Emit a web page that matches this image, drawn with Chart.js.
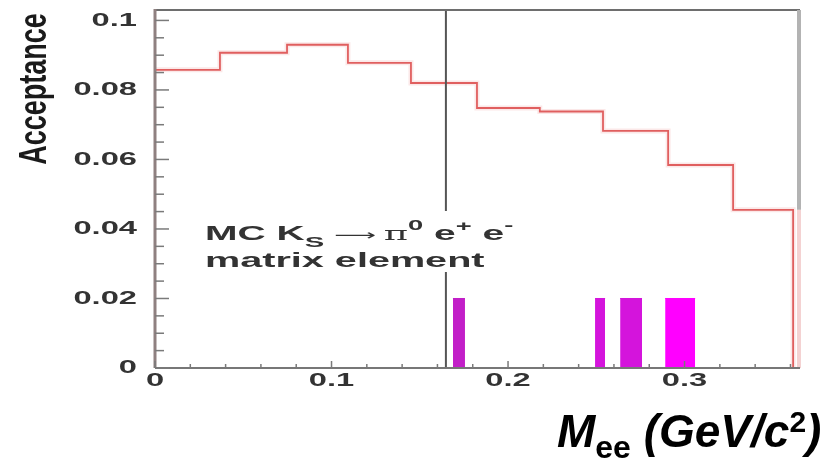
<!DOCTYPE html>
<html>
<head>
<meta charset="utf-8">
<script src="https://cdn.jsdelivr.net/npm/chart.js@4.4.3/dist/chart.umd.min.js"></script>
<style>
  html, body { margin: 0; padding: 0; background: #fff; }
  #wrap { width: 839px; height: 465px; }
</style>
</head>
<body>
<div id="wrap"><canvas id="accChart"></canvas></div>
<script>
// histogram bin edges, Mee in GeV/c^2
const binEdges = [0, 0.0368, 0.0748, 0.1093, 0.145, 0.1824, 0.218, 0.2538, 0.2907, 0.3275, 0.3615];
// acceptance per bin
const acceptance = [0.0858, 0.0907, 0.0930, 0.0878, 0.0820, 0.0748, 0.0738, 0.0682, 0.0584, 0.0455];
// magenta bars
const barLow = [0.1688, 0.2493, 0.2635, 0.2890];
const barHigh = [0.1756, 0.2550, 0.2759, 0.3060];
const barHeight = [0.02, 0.02, 0.02, 0.02];
const barColors = ["#c21fc8", "#d414dc", "#d414dc", "#ff00ff"];
// vertical cut line
const cutValue = 0.1648;
const xTickLabels = ["0", "0.1", "0.2", "0.3"];
const yTickLabels = ["0", "0.02", "0.04", "0.06", "0.08", "0.1"];
const X_MAX = 0.3654;
const Y_MAX = 0.103;

const FONT = "'Liberation Sans', Arial, sans-serif";

// histogram as stepped line: one point per low edge, then close to 0
const histPoints = acceptance.map((v, i) => ({ x: binEdges[i], y: v }));
histPoints.push({ x: binEdges[binEdges.length - 1], y: 0 });

const datasets = [
  {
    data: histPoints,
    stepped: "before",
    borderColor: "rgba(235,150,150,0.22)",
    borderWidth: 5,
    pointRadius: 0,
    fill: false,
  },
  {
    data: histPoints,
    stepped: "before",
    borderColor: "#dd5050",
    borderWidth: 1.8,
    pointRadius: 0,
    fill: false,
  },
];
barLow.forEach((lo, i) => {
  datasets.push({
    data: [
      { x: lo, y: barHeight[i] },
      { x: barHigh[i], y: barHeight[i] },
    ],
    borderColor: barColors[i],
    borderWidth: 1,
    backgroundColor: barColors[i],
    pointRadius: 0,
    fill: "origin",
  });
});

// draw text stretched horizontally (the reference is a widened ROOT canvas)
function runs(ctx, parts, x0, y0, stretch) {
  ctx.save();
  ctx.translate(x0, y0);
  ctx.scale(stretch, 1);
  ctx.textAlign = "left";
  ctx.textBaseline = "alphabetic";
  let cx = 0;
  for (const p of parts) {
    ctx.font = p.font;
    ctx.fillText(p.t, cx, p.dy || 0);
    cx += ctx.measureText(p.t).width + (p.gap || 0);
  }
  ctx.restore();
}

function stretchText(ctx, str, px, py, stretch, align) {
  ctx.save();
  ctx.translate(px, py);
  ctx.scale(stretch, 1);
  ctx.textAlign = align;
  ctx.fillText(str, 0, 0);
  ctx.restore();
}

const rootStyle = {
  id: "rootStyle",
  afterDatasetsDraw(chart) {
    const { ctx, chartArea: a } = chart;
    const x = chart.scales.x;
    const y = chart.scales.y;
    ctx.save();

    // cut line
    const cx = x.getPixelForValue(cutValue);
    ctx.strokeStyle = "#555";
    ctx.lineWidth = 2;
    ctx.beginPath();
    ctx.moveTo(cx, a.top);
    ctx.lineTo(cx, a.bottom);
    ctx.stroke();

    // legend box (white, hides the cut line)
    ctx.fillStyle = "#fff";
    ctx.fillRect(196, 211, 344, 61);

    // frame
    ctx.strokeStyle = "#6e6e6e";
    ctx.lineWidth = 2;
    ctx.beginPath();
    ctx.moveTo(a.left, a.top);
    ctx.lineTo(a.right, a.top);
    ctx.stroke();

    const lastY = y.getPixelForValue(acceptance[acceptance.length - 1]);
    ctx.strokeStyle = "#b3b3b3";
    ctx.lineWidth = 4;
    ctx.beginPath();
    ctx.moveTo(a.right - 1, a.top);
    ctx.lineTo(a.right - 1, lastY);
    ctx.stroke();
    ctx.strokeStyle = "#f4d2d2";
    ctx.beginPath();
    ctx.moveTo(a.right - 1, lastY);
    ctx.lineTo(a.right - 1, a.bottom);
    ctx.stroke();

    ctx.strokeStyle = "#8f8080";
    ctx.lineWidth = 3;
    ctx.beginPath();
    ctx.moveTo(a.left, a.top - 1);
    ctx.lineTo(a.left, a.bottom);
    ctx.stroke();

    ctx.strokeStyle = "#777";
    ctx.lineWidth = 2;
    ctx.beginPath();
    ctx.moveTo(a.left, a.bottom);
    ctx.lineTo(a.right, a.bottom);
    ctx.stroke();

    // inward ticks
    ctx.strokeStyle = "#7a7a7a";
    ctx.lineWidth = 1.5;
    for (let k = 0; k <= 20; k++) {
      const py = y.getPixelForValue(k * 0.005);
      const len = k % 4 === 0 ? 14 : 9;
      ctx.beginPath();
      ctx.moveTo(a.left, py);
      ctx.lineTo(a.left + len, py);
      ctx.stroke();
    }
    for (let k = 0; k <= 18; k++) {
      const px = x.getPixelForValue(k * 0.02);
      if (px > a.right) break;
      const len = k % 5 === 0 ? 7 : 4;
      ctx.beginPath();
      ctx.moveTo(px, a.bottom);
      ctx.lineTo(px, a.bottom - len);
      ctx.stroke();
    }

    // tick labels
    ctx.fillStyle = "#333";
    ctx.font = "bold 19px " + FONT;
    ctx.textBaseline = "middle";
    yTickLabels.forEach((s) => {
      stretchText(ctx, s, a.left - 18, y.getPixelForValue(parseFloat(s)), 1.72, "right");
    });
    xTickLabels.forEach((s) => {
      stretchText(ctx, s, x.getPixelForValue(parseFloat(s)), a.bottom + 13, 1.72, "center");
    });

    // legend text
    const big = "bold 20px " + FONT;
    const small = "bold 14px " + FONT;
    runs(ctx, [
      { t: "MC K", font: big },
      { t: "S", font: "bold 15px " + FONT, dy: 7, gap: 5 },
      { t: "\u27f6", font: "15px 'DejaVu Sans', sans-serif", gap: 4 },
      { t: "\u03c0", font: "19px 'DejaVu Serif', serif" },
      { t: "0", font: small, dy: -10 },
      { t: " e", font: big },
      { t: "+", font: small, dy: -9 },
      { t: " e", font: big },
      { t: "-", font: small, dy: -10 },
    ], 205, 240, 1.95);
    runs(ctx, [{ t: "matrix element", font: big }], 205, 267, 1.98);

    // y title
    ctx.fillStyle = "#1a1a1a";
    ctx.save();
    ctx.translate(35, 89);
    ctx.scale(1.42, 1);
    ctx.rotate(-Math.PI / 2);
    ctx.font = "bold 27px " + FONT;
    ctx.textAlign = "center";
    ctx.textBaseline = "middle";
    ctx.fillText("Acceptance", 0, 0);
    ctx.restore();

    // x title
    ctx.fillStyle = "#000";
    runs(ctx, [
      { t: "M", font: "italic bold 46px " + FONT },
      { t: "ee", font: "bold 32px " + FONT, dy: 11 },
      { t: " (GeV/c", font: "italic bold 46px " + FONT },
      { t: "2", font: "bold 30px " + FONT, dy: -15 },
      { t: ")", font: "italic bold 46px " + FONT },
    ], 557, 447, 1);

    ctx.restore();
  },
};

new Chart(document.getElementById("accChart"), {
  type: "line",
  data: { datasets },
  options: {
    responsive: true,
    maintainAspectRatio: false,
    animation: false,
    layout: { padding: { left: 0, top: 10, right: 39, bottom: 0 } },
    plugins: { legend: { display: false }, tooltip: { enabled: false } },
    scales: {
      x: {
        type: "linear",
        min: 0,
        max: X_MAX,
        grid: { display: false },
        border: { display: false },
        ticks: { display: false },
        afterFit: (s) => { s.height = 97; },
      },
      y: {
        type: "linear",
        min: 0,
        max: Y_MAX,
        grid: { display: false },
        border: { display: false },
        ticks: { display: false },
        afterFit: (s) => { s.width = 155; },
      },
    },
  },
  plugins: [rootStyle],
});
</script>
</body>
</html>
